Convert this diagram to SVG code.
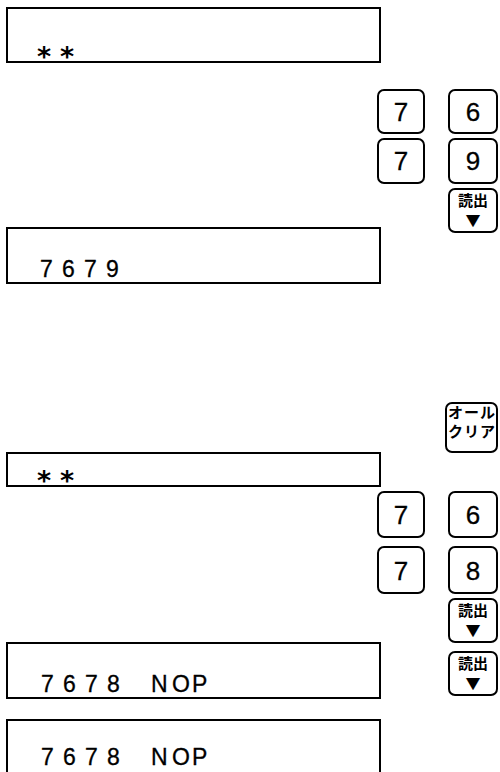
<svg xmlns="http://www.w3.org/2000/svg" width="500" height="772" viewBox="0 0 500 772">
<style>
.disp{fill:#fff;stroke:#000;stroke-width:2}
.key{fill:#fff;stroke:#000;stroke-width:2}
.dt{font-family:"Liberation Sans",Arial,sans-serif;font-size:23px;fill:#000;stroke:#000;stroke-width:0.3}
.ast{font-family:"DejaVu Sans",sans-serif;font-weight:bold;font-size:27px;fill:#000}
.kd{font-family:"Liberation Sans",Arial,sans-serif;font-size:26px;fill:#000;text-anchor:middle;stroke:#000;stroke-width:0.3}
.kj{font-family:"Noto Sans CJK JP",sans-serif;font-weight:bold;font-size:15px;fill:#000;text-anchor:middle}
.tri{font-family:"Noto Sans CJK JP",sans-serif;font-size:15px;fill:#000;text-anchor:middle}
.ac{font-family:"Noto Sans CJK JP",sans-serif;font-weight:bold;font-size:15px;fill:#000;text-anchor:middle}
</style>
<rect width="500" height="772" fill="#fff"/>

<g id="display1">
<rect class="disp" x="7" y="8" width="373" height="54"/>
<text class="ast" x="37 60" y="66">**</text>
</g>

<g id="key-7a"><rect class="key" x="378" y="90" width="46" height="43" rx="6"/><text class="kd" x="401" y="121">7</text></g>
<g id="key-6a"><rect class="key" x="449" y="90" width="48" height="43" rx="6"/><text class="kd" x="473" y="121">6</text></g>
<g id="key-7b"><rect class="key" x="378" y="139" width="46" height="44" rx="6"/><text class="kd" x="401" y="170">7</text></g>
<g id="key-9"><rect class="key" x="449" y="139" width="48" height="44" rx="6"/><text class="kd" x="473" y="170">9</text></g>
<g id="key-read1"><rect class="key" x="449" y="189" width="48" height="43" rx="6"/><text class="kj" x="473" y="206">読出</text><text class="tri" x="473" y="226">▼</text></g>

<g id="display2">
<rect class="disp" x="7" y="228" width="373" height="55"/>
<text class="dt" x="40 62 84 106" y="277">7679</text>
</g>

<g id="key-allclear"><rect class="key" x="446" y="403" width="51" height="49" rx="6"/><text class="ac" x="471.5" y="418" textLength="47">オール</text><text class="ac" x="471.5" y="437" textLength="47">クリア</text></g>

<g id="display3">
<rect class="disp" x="7" y="453" width="373" height="33"/>
<text class="ast" x="37 60" y="490">**</text>
</g>

<g id="key-7c"><rect class="key" x="378" y="492" width="46" height="45" rx="6"/><text class="kd" x="401" y="524">7</text></g>
<g id="key-6b"><rect class="key" x="449" y="492" width="48" height="45" rx="6"/><text class="kd" x="473" y="524">6</text></g>
<g id="key-7d"><rect class="key" x="378" y="547" width="46" height="46" rx="6"/><text class="kd" x="401" y="580">7</text></g>
<g id="key-8"><rect class="key" x="449" y="547" width="48" height="46" rx="6"/><text class="kd" x="473" y="580">8</text></g>
<g id="key-read2"><rect class="key" x="449" y="599" width="48" height="43" rx="6"/><text class="kj" x="473" y="616">読出</text><text class="tri" x="473" y="636">▼</text></g>
<g id="key-read3"><rect class="key" x="449" y="652" width="48" height="43" rx="6"/><text class="kj" x="473" y="669">読出</text><text class="tri" x="473" y="689">▼</text></g>

<g id="display4">
<rect class="disp" x="7" y="643" width="373" height="55"/>
<text class="dt" x="41 63 85 107 151 172 192" y="692">7678NOP</text>
</g>

<g id="display5">
<rect class="disp" x="7" y="720" width="373" height="70"/>
<text class="dt" x="41 63 85 107 151 172 192" y="765">7678NOP</text>
</g>

<g id="connectors"></g>
</svg>
